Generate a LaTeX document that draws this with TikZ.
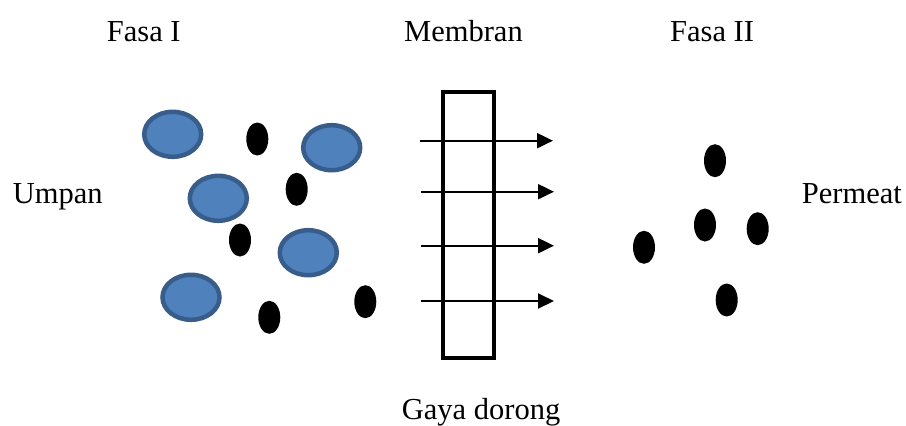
\documentclass[tikz,border=0pt]{standalone}
\usepackage{fontspec}
\setmainfont{Liberation Serif}
\usetikzlibrary{shapes.geometric,arrows.meta}
\definecolor{cellfill}{HTML}{4F81BD}
\definecolor{celledge}{HTML}{385D8A}
\begin{document}
\begin{tikzpicture}[x=1pt,y=-1pt,
  big/.style={ellipse,draw=celledge,fill=cellfill,line width=4.5pt,minimum width=57pt,minimum height=45pt,inner sep=0pt},
  small/.style={ellipse,fill=black,minimum width=22pt,minimum height=33pt,inner sep=0pt},
  lbl/.style={anchor=base west,inner sep=0pt,font=\fontsize{30.5}{32}\selectfont},
  flow/.style={line width=2pt,-{Triangle[length=16pt,width=15pt]}},
  membrane/.style={draw,line width=4pt}]
\useasboundingbox (0,0) rectangle (906,426);
\fill[white] (0,0) rectangle (906,426);
% labels
\node[lbl] (fasa1) at (106.7,41) {Fasa I};
\node[lbl] (membran) at (404,41) {Membran};
\node[lbl] (fasa2) at (670,41) {Fasa II};
\node[lbl] (umpan) at (12.7,203) {Umpan};
\node[lbl] (permeat) at (801.7,203) {Permeat};
\node[lbl] (gaya) at (401.7,419) {Gaya dorong};
% big particles
\node[big] (b1) at (172.7,134.3) {};
\node[big] (b2) at (331.7,147.7) {};
\node[big] (b3) at (218.3,198.3) {};
\node[big] (b4) at (308.3,252.7) {};
\node[big] (b5) at (191,297.3) {};
% small particles feed side
\node[small] (s1) at (257.3,139) {};
\node[small] (s2) at (296.7,189.3) {};
\node[small] (s3) at (240,240) {};
\node[small] (s4) at (269.3,317.3) {};
\node[small] (s5) at (365.3,301.7) {};
% small particles permeate side
\node[small] (p1) at (715,160.7) {};
\node[small] (p2) at (705,225) {};
\node[small] (p3) at (757.7,228.7) {};
\node[small] (p4) at (644,247.3) {};
\node[small] (p5) at (726.7,300) {};
% membrane
\node[membrane,minimum width=50.7pt,minimum height=266pt,inner sep=0pt] (mem) at (468.7,225.3) {};
% arrows
\coordinate (a1s) at (420,140.7); \coordinate (a1e) at (553,140.7);
\coordinate (a2s) at (421,191.7); \coordinate (a2e) at (554,191.7);
\coordinate (a3s) at (421,245.7); \coordinate (a3e) at (554,245.7);
\coordinate (a4s) at (421,301); \coordinate (a4e) at (554,301);
\draw[flow] (a1s) -- (a1e);
\draw[flow] (a2s) -- (a2e);
\draw[flow] (a3s) -- (a3e);
\draw[flow] (a4s) -- (a4e);
\end{tikzpicture}
\end{document}
